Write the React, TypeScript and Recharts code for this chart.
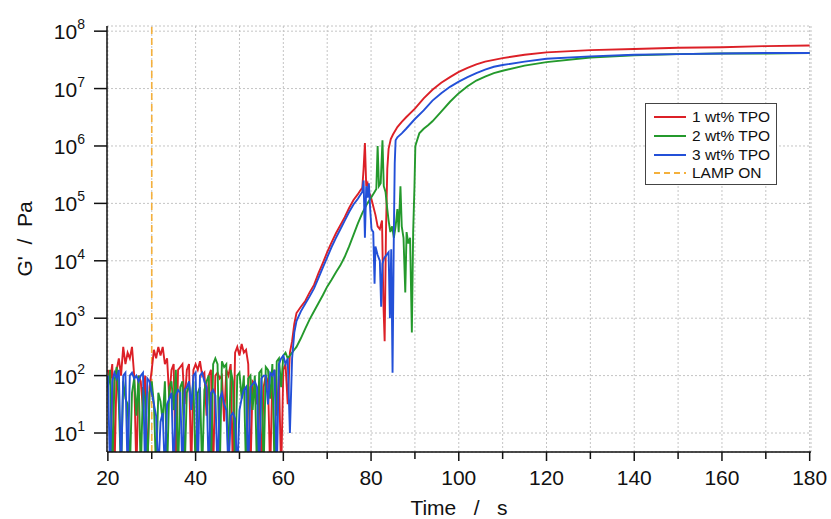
import React from 'react';
import {CartesianGrid, Line, LineChart, ReferenceLine, XAxis, YAxis} from 'recharts';

document.body.style.margin = '0';

// G' as log10(Pa); values below the axis floor are the drop-outs to the bottom edge
const noiseTimes = Array.from({length: 85}, (_, i) => 20 + i * 0.5);

const redNoiseLog = [
  2.1, 1.9, 2.2, 0.3, 2.1, 2.3, 2.0, 2.5, 2.2, 2.4,
  2.3, 2.5, 2.0, 0.3, 2.0, 1.9, 1.4, 2.0, 0.3, 1.8,
  2.1, 2.45, 2.3, 2.5, 2.35, 2.5, 2.2, 2.3, 1.6, 2.1,
  2.2, 0.3, 2.1, 2.15, 2.2, 1.5, 2.1, 2.2, 0.3, 2.1,
  2.2, 2.1, 2.25, 2.0, 2.05, 1.3, 2.0, 2.1, 0.3, 2.0,
  2.05, 1.95, 2.0, 1.2, 2.1, 2.0, 2.2, 0.3, 2.4, 2.5,
  2.35, 2.55, 2.4, 2.45, 2.2, 0.3, 1.9, 1.85, 1.5, 1.9,
  0.3, 1.8, 2.0, 1.9, 0.3, 2.0, 2.1, 1.3, 2.0, 0.3,
  2.1, 2.2, 1.5, 2.4, 2.6,
];
const greenNoiseLog = [
  1.8, 2.1, 0.3, 1.9, 2.15, 1.5, 0.3, 1.9, 1.6, 1.5,
  0.3, 1.7, 1.95, 1.3, 2.0, 0.3, 1.8, 1.6, 0.3, 1.7,
  1.9, 1.5, 0.3, 1.7, 1.55, 1.2, 1.9, 0.3, 1.8, 1.9,
  1.4, 2.1, 0.3, 1.8, 1.9, 0.3, 1.7, 1.85, 1.5, 1.9,
  0.3, 1.7, 1.8, 0.3, 1.75, 1.9, 2.0, 0.3, 2.2, 2.3,
  2.2, 0.3, 2.25, 2.15, 2.2, 0.3, 2.1, 1.9, 0.3, 2.0,
  2.05, 1.6, 2.0, 0.3, 1.95, 2.0, 1.4, 2.0, 0.3, 2.05,
  2.1, 0.3, 2.15, 2.1, 1.6, 2.2, 0.3, 2.25, 2.3, 1.8,
  2.35, 2.4, 2.3, 2.35, 2.4,
];
const blueNoiseLog = [
  2.0, 0.3, 1.9, 2.05, 1.95, 2.1, 0.3, 2.0, 2.05, 0.3,
  2.0, 2.05, 1.95, 2.0, 1.9, 2.0, 2.05, 0.3, 1.95, 1.9,
  1.7, 1.5, 1.3, 0.3, 1.2, 1.35, 0.3, 1.5, 1.6, 1.7,
  0.3, 1.65, 1.75, 1.7, 0.3, 1.75, 1.8, 1.9, 1.4, 2.0,
  2.05, 0.3, 2.0, 2.05, 1.9, 1.8, 0.3, 1.7, 1.75, 1.65,
  0.3, 1.6, 1.7, 1.5, 1.4, 0.3, 1.3, 1.35, 1.25, 0.3,
  1.4, 1.6, 1.75, 1.8, 0.3, 1.8, 1.85, 1.9, 1.8, 0.3,
  1.95, 2.0, 2.0, 1.5, 2.05, 2.0, 2.1, 0.3, 2.2, 2.3,
  2.35, 2.2, 2.3, 1.0, 2.3,
];

const redCureTimes = [62.5, 63, 64, 65, 66, 67, 68, 69, 70, 71, 72, 73, 74, 75, 76, 77, 77.5, 78, 78.3, 78.6, 78.9, 79.2, 79.5, 80, 80.5, 81, 81.5, 82, 82.5, 82.8, 83.1, 83.4, 83.7, 84, 84.5, 85, 86, 87, 88, 90, 92, 94, 96, 98, 100, 102, 104, 106, 108, 110, 115, 120, 130, 140, 150, 160, 170, 180];
const redCureLog = [2.9, 3.09, 3.2, 3.3, 3.45, 3.58, 3.78, 3.96, 4.15, 4.32, 4.48, 4.62, 4.76, 4.92, 5.06, 5.16, 5.22, 5.27, 5.6, 6.05, 5.3, 5.35, 5.2, 5.1, 4.95, 4.8, 4.6, 4.55, 4.7, 3.3, 2.6, 4.5, 5.6, 5.95, 6.12, 6.2, 6.33, 6.42, 6.5, 6.65, 6.83, 6.98, 7.1, 7.2, 7.29, 7.36, 7.42, 7.47, 7.5, 7.53, 7.59, 7.63, 7.67, 7.69, 7.71, 7.72, 7.74, 7.75];

const greenCureTimes = [62.5, 63, 64, 65, 66, 67, 68, 69, 70, 71, 72, 73, 74, 75, 76, 77, 78, 79, 80, 80.8, 81.2, 81.5, 81.8, 82.2, 82.6, 82.9, 83.3, 83.7, 84, 84.4, 84.8, 85.2, 85.6, 86, 86.3, 86.7, 87, 87.4, 87.8, 88.1, 88.5, 88.9, 89.3, 89.6, 89.9, 90.1, 90.5, 91, 92, 93, 94, 96, 98, 100, 102, 104, 106, 108, 110, 115, 120, 130, 140, 150, 160, 170, 180];
const greenCureLog = [2.45, 2.5, 2.65, 2.82, 2.98, 3.12, 3.26, 3.4, 3.55, 3.67, 3.8, 3.92, 4.07, 4.25, 4.45, 4.65, 4.83, 4.98, 5.1, 5.2, 5.25, 6.0, 5.3, 5.35, 6.1, 5.3, 5.2, 4.9, 4.7, 4.5, 4.6, 4.4, 4.6, 4.9, 4.5, 5.3, 4.6, 4.4, 3.45, 4.5, 4.3, 4.4, 2.75, 4.5, 5.3, 6.0, 6.1, 6.22, 6.3, 6.36, 6.43, 6.6, 6.77, 6.92, 7.04, 7.14, 7.21, 7.27, 7.31, 7.4, 7.46, 7.54, 7.58, 7.6, 7.61, 7.61, 7.62];

const blueCureTimes = [62.5, 63, 64, 65, 66, 67, 68, 69, 70, 71, 72, 73, 74, 75, 76, 77, 77.5, 78, 78.3, 78.6, 78.9, 79.2, 79.5, 79.8, 80.1, 80.5, 80.8, 81, 81.5, 82, 82.3, 82.6, 83, 83.5, 84, 84.3, 84.6, 84.9, 85.2, 85.4, 85.6, 86, 87, 88, 90, 92, 94, 96, 98, 100, 102, 104, 106, 108, 110, 115, 120, 130, 140, 150, 160, 170, 180];
const blueCureLog = [2.75, 2.95, 3.12, 3.25, 3.38, 3.52, 3.7, 3.88, 4.06, 4.24, 4.4, 4.55, 4.7, 4.85, 4.98, 5.08, 5.14, 5.2, 5.4, 4.4, 5.3, 5.1, 5.35, 4.9, 4.55, 4.5, 3.6, 4.25, 4.1, 4.0, 3.2, 3.95, 4.05, 4.1, 4.15, 3.0, 4.2, 2.05, 4.5, 5.7, 6.1, 6.15, 6.22, 6.3, 6.47, 6.62, 6.79, 6.92, 7.03, 7.12, 7.2, 7.27, 7.33, 7.38, 7.41, 7.47, 7.52, 7.56, 7.59, 7.6, 7.61, 7.62, 7.62];

const lampOnTime = 30;
const timeTicks = [20, 30, 40, 50, 60, 70, 80, 90, 100, 110, 120, 130, 140, 150, 160, 170, 180];
const modulusTicks = [1e1, 1e2, 1e3, 1e4, 1e5, 1e6, 1e7, 1e8];

const series = [
  {name: '1 wt% TPO', color: '#dc2027'},
  {name: '2 wt% TPO', color: '#24992c'},
  {name: '3 wt% TPO', color: '#2350d8'},
];

const toPoints = (noise: number[], times: number[], logs: number[]) => [
  ...noise.map((v, i) => ({t: noiseTimes[i], g: 10 ** v})),
  ...times.map((t, i) => ({t, g: 10 ** logs[i]})),
];

const redData = toPoints(redNoiseLog, redCureTimes, redCureLog);
const greenData = toPoints(greenNoiseLog, greenCureTimes, greenCureLog);
const blueData = toPoints(blueNoiseLog, blueCureTimes, blueCureLog);

const FONT = '"Liberation Sans", Arial, sans-serif';

function TimeTick({x, y, payload}: any) {
  const major = payload.value % 20 === 0;
  return (
    <g>
      <line x1={x} x2={x} y1={y} y2={y + (major ? 9 : 7)} stroke="#111" strokeWidth={1.5} />
      {major && <text x={x} y={y + 33} textAnchor="middle" fontSize={21} fontFamily={FONT} fill="#111">{payload.value}</text>}
    </g>
  );
}

function PowerTick({x, y, payload}: any) {
  const exp = Math.round(Math.log10(payload.value));
  return (
    <g>
      <line x1={x - 13} x2={x} y1={y} y2={y} stroke="#111" strokeWidth={1.5} />
      <text x={x - 22} y={y + 8} textAnchor="end" fontSize={21} fontFamily={FONT} fill="#111">
        10<tspan dy={-10} fontSize={14}>{exp}</tspan>
      </text>
    </g>
  );
}

function LegendBox() {
  const rows = [...series.map(s => ({...s, dashed: false})), {name: 'LAMP ON', color: '#f4b03c', dashed: true}];
  return (
    <div style={{position: 'absolute', left: 645, top: 103, width: 132, height: 82, border: '1px solid #444', background: '#fff', fontFamily: FONT, fontSize: 15.5, color: '#111', boxSizing: 'border-box', paddingTop: 4}}>
      {rows.map(r => (
        <div key={r.name} style={{display: 'flex', alignItems: 'center', height: 18.7}}>
          <svg width={40} height={10} style={{marginLeft: 6}}>
            <line x1={2} x2={34} y1={5} y2={5} stroke={r.color} strokeWidth={2} strokeDasharray={r.dashed ? '6 4' : undefined} />
          </svg>
          <span>{r.name}</span>
        </div>
      ))}
    </div>
  );
}

export default function App() {
  return (
    <div style={{position: 'relative', width: 831, height: 519, background: '#fff'}}>
      <LineChart width={831} height={519} margin={{top: 26, right: 20, bottom: 0, left: 0}}>
        <CartesianGrid stroke="#c4c4c4" strokeDasharray="2 2" />
        <XAxis
          allowDataOverflow
          axisLine={{stroke: '#111', strokeWidth: 1.5}}
          dataKey="t"
          domain={[19.8, 180.3]}
          height={67}
          label={() => (
            <text x={459} y={515} textAnchor="middle" fontSize={21} fontFamily={FONT} fill="#111">{'Time\u00a0\u00a0 /\u00a0\u00a0 s'}</text>
          )}
          tick={<TimeTick />}
          tickLine={false}
          tickMargin={0}
          tickSize={0}
          ticks={timeTicks}
          type="number"
        />
        <XAxis xAxisId="frame-top" axisLine={{stroke: '#111', strokeWidth: 1.5}} domain={[0, 1]} height={0} orientation="top" tick={false} tickLine={false} type="number" />
        <YAxis
          allowDataOverflow
          axisLine={{stroke: '#111', strokeWidth: 1.5}}
          domain={[4.67, 1.23e8]}
          label={() => (
            <text x={32} y={239} textAnchor="middle" fontSize={21} fontFamily={FONT} fill="#111" transform="rotate(-90 32 239)">{"G'\u00a0\u00a0/\u00a0\u00a0Pa"}</text>
          )}
          scale="log"
          tick={<PowerTick />}
          tickLine={false}
          tickMargin={0}
          tickSize={0}
          ticks={modulusTicks}
          type="number"
          width={107}
        />
        <YAxis yAxisId="frame-right" axisLine={{stroke: '#111', strokeWidth: 1.5}} domain={[0, 1]} orientation="right" tick={false} tickLine={false} type="number" width={0} />
        <ReferenceLine x={lampOnTime} stroke="#f4b03c" strokeDasharray="7 4" strokeWidth={1.6} />
        <Line data={redData} dataKey="g" dot={false} isAnimationActive={false} name={series[0].name} stroke={series[0].color} strokeWidth={1.9} type="linear" />
        <Line data={greenData} dataKey="g" dot={false} isAnimationActive={false} name={series[1].name} stroke={series[1].color} strokeWidth={1.9} type="linear" />
        <Line data={blueData} dataKey="g" dot={false} isAnimationActive={false} name={series[2].name} stroke={series[2].color} strokeWidth={1.9} type="linear" />
      </LineChart>
      <LegendBox />
    </div>
  );
}
